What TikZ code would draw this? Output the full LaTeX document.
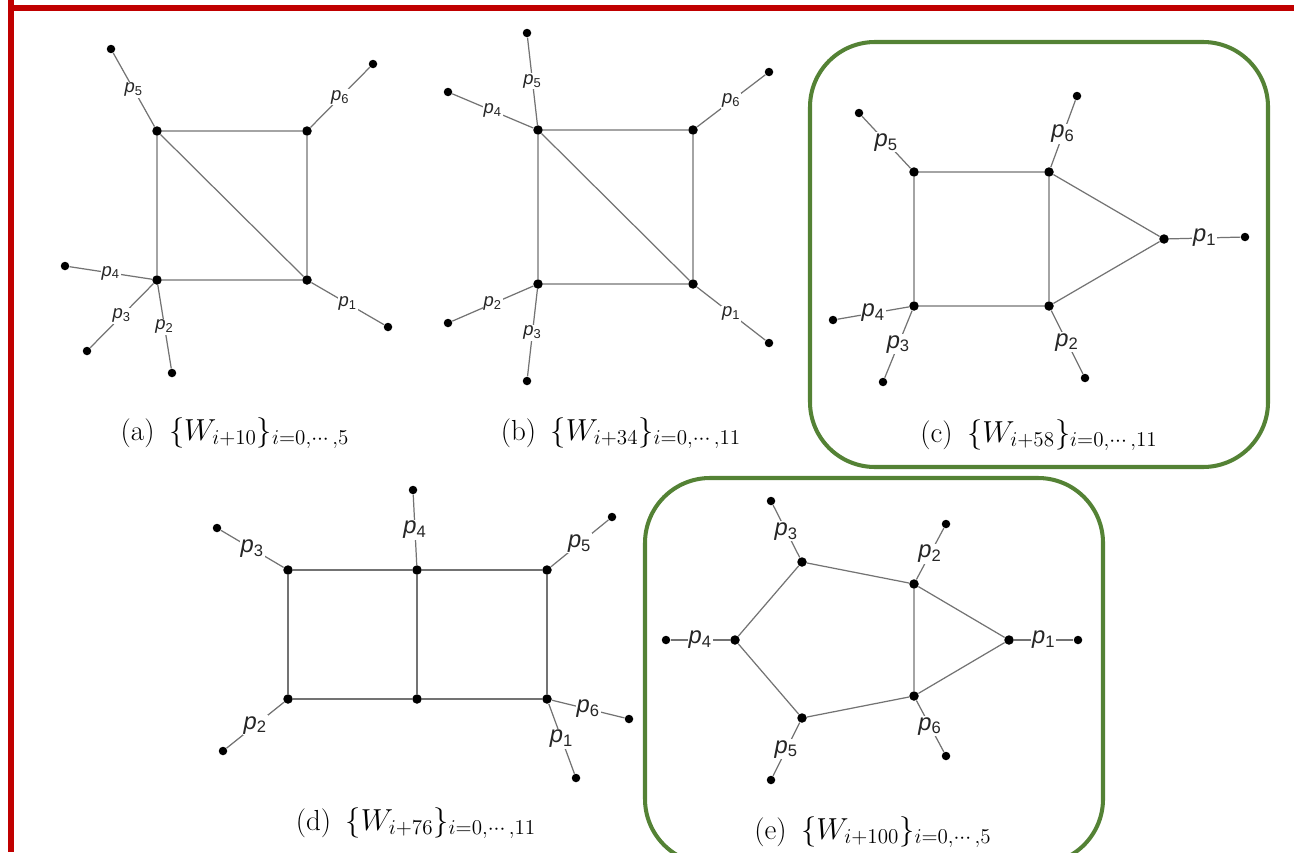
\documentclass[tikz,border=0pt]{standalone}
\usepackage{amsmath}
\usepackage{fontspec}
\newfontfamily\lblfont{Liberation Sans}
\usepackage{tikz}
\usepackage{xcolor}
\definecolor{frame}{RGB}{192,0,0}
\definecolor{gframe}{RGB}{84,130,53}
\definecolor{prop}{RGB}{115,115,115}
\newcommand{\mom}[1]{{\itshape p}\textsubscript{#1}}
\tikzset{
  vdot/.style={circle,fill=black,inner sep=0pt,minimum size=0.19cm},
  edot/.style={circle,fill=black,inner sep=0pt,minimum size=0.17cm},
  fline/.style={prop,line width=0.7pt},
  plab/.style={fill=white,text=black!85,inner sep=0.6pt,font=\lblfont\fontsize{10.5}{12}\selectfont},
  plabl/.style={fill=white,text=black!85,inner sep=0.6pt,font=\lblfont\fontsize{13.5}{15}\selectfont},
  capt/.style={font=\fontsize{16.5}{19}\selectfont},
  gbox/.style={gframe,line width=2.3pt,rounded corners=1.3cm},
}

\begin{document}
\begin{tikzpicture}[x=0.02cm,y=-0.02cm]
  \useasboundingbox (0,0) rectangle (1294,852);
  \clip (0,0) rectangle (1294,852);
  % ---- red frame ----
  \fill[frame] (8,0) rectangle (14,852);
  \fill[frame] (8,5) rectangle (1294,11);
  % ---- (a) ----
  \begin{scope}
    \node[vdot] (a1) at (157,131) {};
    \node[vdot] (a2) at (307,131) {};
    \node[vdot] (a3) at (307,280) {};
    \node[vdot] (a4) at (157,280) {};
    \node[edot] (a1e) at (388,327) {};
    \node[edot] (a2e) at (172,373) {};
    \node[edot] (a3e) at (87,351) {};
    \node[edot] (a4e) at (65,266) {};
    \node[edot] (a5e) at (111,49) {};
    \node[edot] (a6e) at (373,64) {};
    \draw[fline] (a1) -- (a2) -- (a3) -- (a4) -- (a1) (a1) -- (a3);
    \draw[fline] (a3) -- node[plab] {\mom1} (a1e);
    \draw[fline] (a4) -- node[plab] {\mom2} (a2e);
    \draw[fline] (a4) -- node[plab] {\mom3} (a3e);
    \draw[fline] (a4) -- node[plab] {\mom4} (a4e);
    \draw[fline] (a1) -- node[plab] {\mom5} (a5e);
    \draw[fline] (a2) -- node[plab] {\mom6} (a6e);
    \node[capt] (acap) at (235,433) {(a)\enspace$\{W_{i+10}\}_{i=0,\cdots,5}$};
  \end{scope}
  % ---- (b) ----
  \begin{scope}
    \node[vdot] (b1) at (538,130) {};
    \node[vdot] (b2) at (693,130) {};
    \node[vdot] (b3) at (693,284) {};
    \node[vdot] (b4) at (538,284) {};
    \node[edot] (b1e) at (769,343) {};
    \node[edot] (b2e) at (448,323) {};
    \node[edot] (b3e) at (527,381) {};
    \node[edot] (b4e) at (448,92) {};
    \node[edot] (b5e) at (527,33) {};
    \node[edot] (b6e) at (769,72) {};
    \draw[fline] (b1) -- (b2) -- (b3) -- (b4) -- (b1) (b1) -- (b3);
    \draw[fline] (b3) -- node[plab] {\mom1} (b1e);
    \draw[fline] (b4) -- node[plab] {\mom2} (b2e);
    \draw[fline] (b4) -- node[plab] {\mom3} (b3e);
    \draw[fline] (b1) -- node[plab] {\mom4} (b4e);
    \draw[fline] (b1) -- node[plab] {\mom5} (b5e);
    \draw[fline] (b2) -- node[plab] {\mom6} (b6e);
    \node[capt] (bcap) at (621,433) {(b)\enspace$\{W_{i+34}\}_{i=0,\cdots,11}$};
  \end{scope}
  % ---- (c) ----
  \begin{scope}
    \draw[gbox] (810,42) rectangle (1268,467);
    \node[vdot] (c1) at (914,172) {};
    \node[vdot] (c2) at (1049,172) {};
    \node[vdot] (c3) at (1049,306) {};
    \node[vdot] (c4) at (914,306) {};
    \node[vdot] (c5) at (1164,239) {};
    \node[edot] (c1e) at (1245,237) {};
    \node[edot] (c2e) at (1085,378) {};
    \node[edot] (c3e) at (883,382) {};
    \node[edot] (c4e) at (833,320) {};
    \node[edot] (c5e) at (859,113) {};
    \node[edot] (c6e) at (1077,96) {};
    \draw[fline] (c1) -- (c2) -- (c3) -- (c4) -- (c1) (c2) -- (c5) -- (c3);
    \draw[fline] (c5) -- node[plabl] {\mom1} (c1e);
    \draw[fline] (c3) -- node[plabl] {\mom2} (c2e);
    \draw[fline] (c4) -- node[plabl] {\mom3} (c3e);
    \draw[fline] (c4) -- node[plabl] {\mom4} (c4e);
    \draw[fline] (c1) -- node[plabl] {\mom5} (c5e);
    \draw[fline] (c2) -- node[plabl] {\mom6} (c6e);
    \node[capt] (ccap) at (1039,435) {(c)\enspace$\{W_{i+58}\}_{i=0,\cdots,11}$};
  \end{scope}
  % ---- (d) ----
  \begin{scope}
    \node[vdot] (d1) at (288,570) {};
    \node[vdot] (d2) at (417,570) {};
    \node[vdot] (d3) at (547,570) {};
    \node[vdot] (d4) at (547,699) {};
    \node[vdot] (d5) at (417,699) {};
    \node[vdot] (d6) at (288,699) {};
    \node[edot] (d1e) at (576,778) {};
    \node[edot] (d2e) at (223,751) {};
    \node[edot] (d3e) at (217,528) {};
    \node[edot] (d4e) at (413,490) {};
    \node[edot] (d5e) at (612,517) {};
    \node[edot] (d6e) at (629,719) {};
    \draw[fline] (d1) -- (d2) -- (d3) -- (d4) -- (d5) -- (d6) -- (d1) (d2) -- (d5);
    \draw[fline] (d4) -- node[plabl] {\mom1} (d1e);
    \draw[fline] (d6) -- node[plabl] {\mom2} (d2e);
    \draw[fline] (d1) -- node[plabl] {\mom3} (d3e);
    \draw[fline] (d2) -- node[plabl] {\mom4} (d4e);
    \draw[fline] (d3) -- node[plabl] {\mom5} (d5e);
    \draw[fline] (d4) -- node[plabl] {\mom6} (d6e);
    \node[capt] (dcap) at (416,823) {(d)\enspace$\{W_{i+76}\}_{i=0,\cdots,11}$};
  \end{scope}
  % ---- (e) ----
  \begin{scope}
    \draw[gbox] (645,478) rectangle (1103,864);
    \node[vdot] (e1) at (802,562) {};
    \node[vdot] (e2) at (914,584) {};
    \node[vdot] (e3) at (1009,640) {};
    \node[vdot] (e4) at (914,696) {};
    \node[vdot] (e5) at (802,718) {};
    \node[vdot] (e6) at (735,640) {};
    \node[edot] (e1e) at (1078,640) {};
    \node[edot] (e2e) at (946,524) {};
    \node[edot] (e3e) at (771,501) {};
    \node[edot] (e4e) at (666,640) {};
    \node[edot] (e5e) at (771,780) {};
    \node[edot] (e6e) at (946,756) {};
    \draw[fline] (e6) -- (e1) -- (e2) -- (e3) -- (e4) -- (e5) -- (e6) (e2) -- (e4);
    \draw[fline] (e3) -- node[plabl] {\mom1} (e1e);
    \draw[fline] (e2) -- node[plabl] {\mom2} (e2e);
    \draw[fline] (e1) -- node[plabl] {\mom3} (e3e);
    \draw[fline] (e6) -- node[plabl] {\mom4} (e4e);
    \draw[fline] (e5) -- node[plabl] {\mom5} (e5e);
    \draw[fline] (e4) -- node[plabl] {\mom6} (e6e);
    \node[capt] (ecap) at (873,832) {(e)\enspace$\{W_{i+100}\}_{i=0,\cdots,5}$};
  \end{scope}
\end{tikzpicture}
\end{document}
